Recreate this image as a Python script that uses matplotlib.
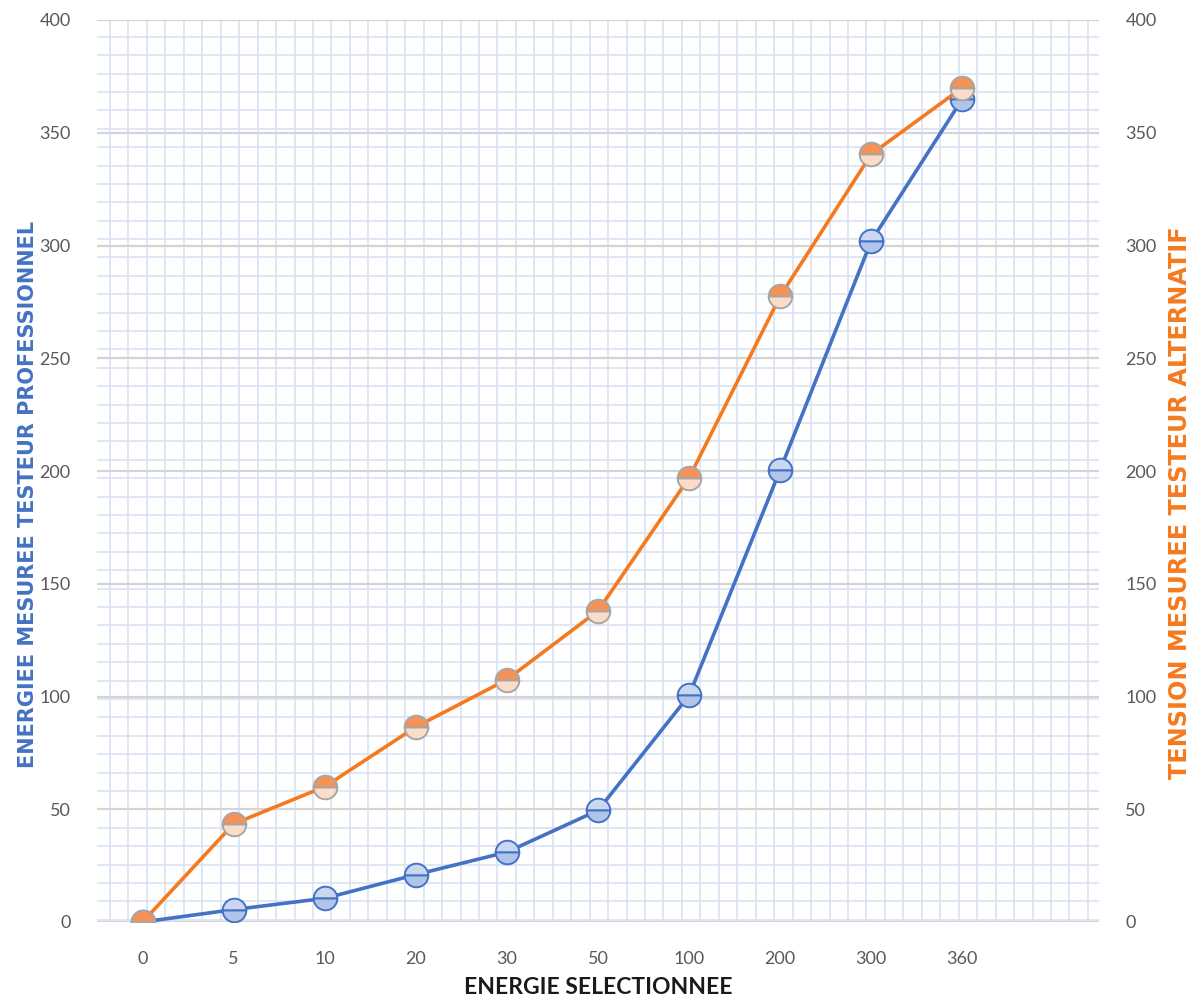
import numpy as np
import matplotlib.pyplot as plt

# energy settings on the x axis, and the two measured series
energie = ['0', '5', '10', '20', '30', '50', '100', '200', '300', '360']
mesure_pro = [0, 5.5, 10.5, 21, 31, 49.5, 100.5, 200.5, 302, 365]
tension_alt = [0, 43.5, 60, 86.5, 107.5, 138, 197, 277.5, 340.5, 370]

bleu = '#4472C4'
orange = '#F57A1F'
gris = '#595959'

fig = plt.figure(figsize=(11.93, 10), dpi=100)
ax = fig.add_axes([97 / 1193, 1 - 922 / 1000, 1002 / 1193, 902 / 1000])
ax2 = ax.twinx()

# graph paper background (fixed cell size, independent of the data)
step_x = 18.45 / 1002
step_y = 18.40 / 902
for xf in np.arange(13 / 1002, 1, step_x):
    ax.plot([xf, xf], [0, 1], transform=ax.transAxes, color='#D9E2F5', lw=1.2, zorder=0)
for yf in np.arange(1 - 16.7 / 902, 0, -step_y):
    ax.plot([0, 1], [yf, yf], transform=ax.transAxes, color='#D9E2F5', lw=1.2, zorder=0)

x = np.arange(len(energie))

ax.plot(x, mesure_pro, color=bleu, lw=2.6, zorder=3)
ax.plot(x, mesure_pro, ls='none', marker='o', ms=17, mew=1.4, mec=bleu,
        fillstyle='top', mfc='#C9D7F1', markerfacecoloralt='#B1C5EB', zorder=4)

ax2.plot(x, tension_alt, color=orange, lw=2.6, zorder=3)
ax2.plot(x, tension_alt, ls='none', marker='o', ms=17, mew=1.4, mec='#A6A6A6',
         fillstyle='top', mfc='#F69256', markerfacecoloralt='#FCDCC6', zorder=4)

for a in (ax, ax2):
    a.set_ylim(0, 400)
    a.set_yticks(np.arange(0, 401, 50))
    a.set_xlim(-0.5, 10.5)
    for s in a.spines.values():
        s.set_visible(False)
    a.tick_params(length=0, labelsize=13, labelcolor=gris)
    for lab in a.get_yticklabels():
        lab.set_fontfamily('Lato')

ax.tick_params(axis='y', pad=19)
ax2.tick_params(axis='y', pad=19)
ax.set_xticks(x)
ax.set_xticklabels(energie, fontfamily='Lato')
ax.tick_params(axis='x', pad=21)

# major horizontal lines every 50
ax.grid(axis='y', color='#D4D4D4', lw=1.6, zorder=1)
ax.set_axisbelow(True)

# axis titles
fig.text(598 / 1193, 1 - 988 / 1000, 'ENERGIE SELECTIONNEE', fontfamily='Lato',
         fontweight='bold', fontsize=16.5, color='#1A1A1A', ha='center', va='center')
fig.text(28 / 1193, 1 - 494 / 1000, 'ENERGIEE MESUREE TESTEUR PROFESSIONNEL',
         fontfamily='DejaVu Sans', fontweight='bold', fontsize=15, color=bleu,
         rotation=90, ha='center', va='center')
fig.text(1180 / 1193, 1 - 503 / 1000, 'TENSION MESUREE TESTEUR ALTERNATIF',
         fontfamily='DejaVu Sans', fontweight='bold', fontsize=17.2, color=orange,
         rotation=90, ha='center', va='center')

fig.savefig('out.png', dpi=100)
